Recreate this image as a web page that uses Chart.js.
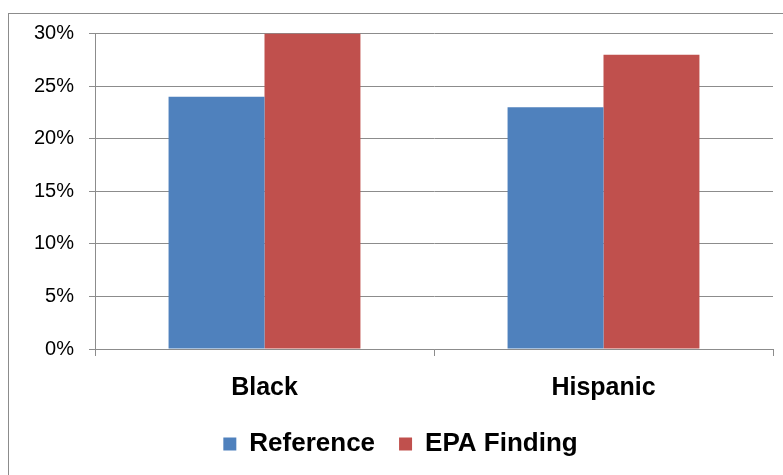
<!DOCTYPE html>
<html>
<head>
<meta charset="utf-8">
<script src="https://cdn.jsdelivr.net/npm/chart.js@4"></script>
<style>
  html, body { margin: 0; padding: 0; background: #fff; overflow: hidden; width: 783px; height: 475px; }
  #frame { position: absolute; left: 8px; top: 13px; width: 800px; height: 500px; border: 1px solid #8c8c8c; box-sizing: border-box; pointer-events: none; }
  #wrap { position: absolute; left: 0; top: -22px; width: 783px; height: 505px; }
</style>
</head>
<body>
<div id="frame"></div>
<div id="wrap"><canvas id="c"></canvas></div>
<script>
const categories = ["Black", "Hispanic"];
const seriesNames = ["Reference", "EPA Finding"];
const referenceValues = [24, 23];
const epaFindingValues = [30, 28];
const yTicks = [0, 5, 10, 15, 20, 25, 30];
const titleText = "Disparity Rates by the Reference Lending vs. EPA Finding";

Chart.defaults.font.family = "'Liberation Sans', Arial, sans-serif";
Chart.defaults.color = "#000";

new Chart(document.getElementById("c"), {
  type: "bar",
  data: {
    labels: categories,
    datasets: [
      { label: seriesNames[0], data: referenceValues, backgroundColor: "#4F81BD", categoryPercentage: 0.566, barPercentage: 1.0 },
      { label: seriesNames[1], data: epaFindingValues, backgroundColor: "#C0504D", categoryPercentage: 0.566, barPercentage: 1.0 }
    ]
  },
  options: {
    responsive: true,
    maintainAspectRatio: false,
    animation: false,
    layout: { padding: { left: 28, right: 10, top: 0, bottom: 16 } },
    plugins: {
      title: {
        display: true,
        text: titleText,
        font: { size: 27, weight: "bold", lineHeight: 0.8 },
        color: "#000",
        padding: { top: -2, bottom: 36 }
      },
      legend: {
        position: "bottom",
        labels: {
          boxWidth: 13,
          boxHeight: 13,
          padding: 24,
          font: { size: 26, weight: "bold" },
          color: "#000"
        }
      },
      tooltip: { enabled: false }
    },
    scales: {
      x: {
        grid: { drawOnChartArea: false, drawTicks: true, tickLength: 7, color: "#8c8c8c", offset: true },
        border: { color: "#8c8c8c", width: 1 },
        ticks: { font: { size: 25, weight: "bold" }, color: "#000", padding: 17 },
        afterFit: (s) => { s.height = 58; }
      },
      y: {
        min: 0,
        max: 30,
        afterBuildTicks: (s) => { s.ticks = yTicks.map(v => ({ value: v })); },
        grid: { color: "#8c8c8c", tickLength: 6, drawTicks: true },
        border: { color: "#8c8c8c", width: 1 },
        ticks: { font: { size: 20 }, color: "#000", padding: 15, callback: (v) => v + "%" },
        afterFit: (s) => { s.width = 67; }
      }
    }
  }
});
</script>
</body>
</html>
